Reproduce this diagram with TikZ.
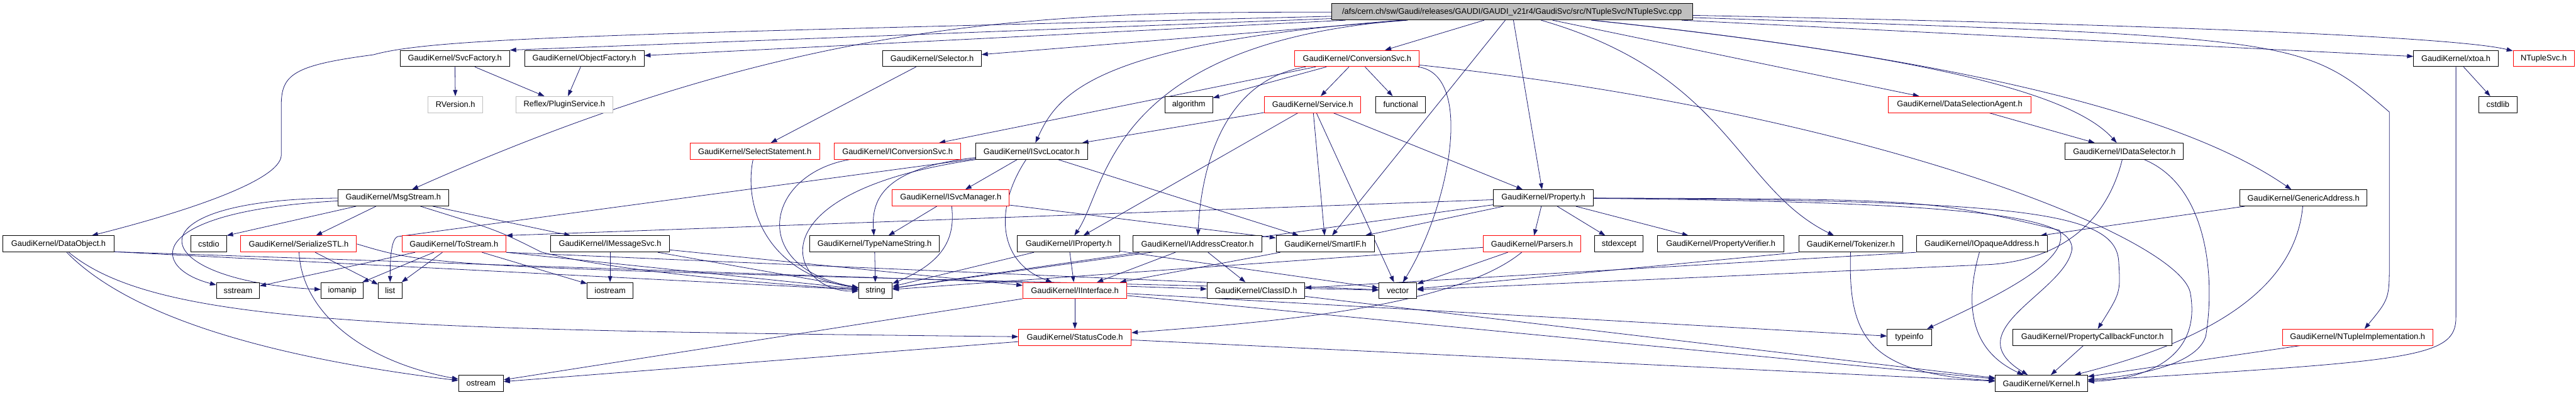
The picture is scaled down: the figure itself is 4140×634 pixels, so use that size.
\documentclass[tikz,border=0pt]{standalone}
\usepackage{fontspec}
\setmainfont{Liberation Sans}
\usetikzlibrary{arrows.meta}
\definecolor{edgeblue}{RGB}{25,25,112}
\definecolor{boxgray}{RGB}{191,191,191}
\pgfdeclarelayer{bg}
\pgfsetlayers{bg,main}

\begin{document}
\begin{tikzpicture}[x=1pt,y=-1pt,>={Triangle[length=10pt,width=7pt]},
    file/.style={draw=black,fill=white,line width=1pt,minimum height=26pt,
      inner sep=0pt,font=\fontsize{13}{15}\selectfont},
    cut/.style={file,draw=red},
    ext/.style={file,draw=boxgray},
    dep/.style={->,draw=edgeblue,line width=0.8pt}]
  \useasboundingbox (0,0) rectangle (4140,634);
  \node[file,fill=boxgray,minimum width=580pt] (root) at (2430,19)
    {/afs/cern.ch/sw/Gaudi/releases/GAUDI/GAUDI\_v21r4/GaudiSvc/src/NTupleSvc/NTupleSvc.cpp};
  % row 1
  \node[file,minimum width=176pt] (svcfac) at (731,94) {GaudiKernel/SvcFactory.h};
  \node[file,minimum width=192pt] (objfac) at (939,94) {GaudiKernel/ObjectFactory.h};
  \node[file,minimum width=158pt] (selector) at (1498,94) {GaudiKernel/Selector.h};
  \node[cut,minimum width=200pt] (convsvc) at (2181,94) {GaudiKernel/ConversionSvc.h};
  \node[file,minimum width=136pt] (xtoa) at (3947,94) {GaudiKernel/xtoa.h};
  \node[cut,minimum width=98pt] (ntsvch) at (4088,94) {NTupleSvc.h};
  % row 2
  \node[ext,minimum width=88pt] (rversion) at (732,168) {RVersion.h};
  \node[ext,minimum width=156pt] (plugin) at (907,168) {Reflex/PluginService.h};
  \node[file,minimum width=77pt] (algorithm) at (1910.5,168) {algorithm};
  \node[cut,minimum width=155pt] (service) at (2109.5,168) {GaudiKernel/Service.h};
  \node[file,minimum width=80pt] (functional) at (2251,168) {functional};
  \node[cut,minimum width=229pt] (dsagent) at (3149.5,168) {GaudiKernel/DataSelectionAgent.h};
  \node[file,minimum width=61pt] (cstdlib) at (4014.5,168) {cstdlib};
  % row 3
  \node[cut,minimum width=208pt] (selstmt) at (1213,243) {GaudiKernel/SelectStatement.h};
  \node[cut,minimum width=203pt] (iconvsvc) at (1442.5,243) {GaudiKernel/IConversionSvc.h};
  \node[file,minimum width=180pt] (isvcloc) at (1658,243) {GaudiKernel/ISvcLocator.h};
  \node[file,minimum width=190pt] (idatasel) at (3414,243) {GaudiKernel/IDataSelector.h};
  % row 4
  \node[file,minimum width=178pt] (msgstream) at (632,318) {GaudiKernel/MsgStream.h};
  \node[cut,minimum width=188pt] (isvcmgr) at (1528,318) {GaudiKernel/ISvcManager.h};
  \node[file,minimum width=161pt] (property) at (2480.5,318) {GaudiKernel/Property.h};
  \node[file,minimum width=204pt] (genaddr) at (3702,318) {GaudiKernel/GenericAddress.h};
  % row 5
  \node[file,minimum width=178pt] (dataobj) at (94,392) {GaudiKernel/DataObject.h};
  \node[file,minimum width=57pt] (cstdio) at (335.5,392) {cstdio};
  \node[cut,minimum width=186pt] (serstl) at (480,392) {GaudiKernel/SerializeSTL.h};
  \node[cut,minimum width=167pt] (tostream) at (729.5,392) {GaudiKernel/ToStream.h};
  \node[file,minimum width=191pt] (imsgsvc) at (980.5,392) {GaudiKernel/IMessageSvc.h};
  \node[file,minimum width=209pt] (typename) at (1405.5,392) {GaudiKernel/TypeNameString.h};
  \node[file,minimum width=165pt] (iproperty) at (1717.5,392) {GaudiKernel/IProperty.h};
  \node[file,minimum width=207pt] (iaddrcr) at (1924.5,392) {GaudiKernel/IAddressCreator.h};
  \node[file,minimum width=158pt] (smartif) at (2130,392) {GaudiKernel/SmartIF.h};
  \node[cut,minimum width=156pt] (parsers) at (2462,392) {GaudiKernel/Parsers.h};
  \node[file,minimum width=78pt] (stdexcept) at (2602,392) {stdexcept};
  \node[file,minimum width=203pt] (propverif) at (2765.5,392) {GaudiKernel/PropertyVerifier.h};
  \node[file,minimum width=167pt] (tokenizer) at (2974.5,392) {GaudiKernel/Tokenizer.h};
  \node[file,minimum width=210pt] (iopaque) at (3185,392) {GaudiKernel/IOpaqueAddress.h};
  % row 6
  \node[file,minimum width=69pt] (sstream) at (382.5,467) {sstream};
  \node[file,minimum width=68pt] (iomanip) at (550,467) {iomanip};
  \node[file,minimum width=38pt] (list) at (627,467) {list};
  \node[file,minimum width=73pt] (iostream) at (980.5,467) {iostream};
  \node[file,minimum width=54pt] (string) at (1407,467) {string};
  \node[cut,minimum width=167pt] (iinterface) at (1727.5,467) {GaudiKernel/IInterface.h};
  \node[file,minimum width=157pt] (classid) at (2018.5,467) {GaudiKernel/ClassID.h};
  \node[file,minimum width=61pt] (vector) at (2246.5,467) {vector};
  % row 7
  \node[cut,minimum width=181pt] (statuscode) at (1727.5,542) {GaudiKernel/StatusCode.h};
  \node[file,minimum width=71pt] (typeinfo) at (3068.5,542) {typeinfo};
  \node[file,minimum width=256pt] (propcb) at (3363,542) {GaudiKernel/PropertyCallbackFunctor.h};
  \node[cut,minimum width=242pt] (ntimpl) at (3789,542) {GaudiKernel/NTupleImplementation.h};
  % row 8
  \node[file,minimum width=72pt] (ostream) at (773,616) {ostream};
  \node[file,minimum width=148pt] (kernel) at (3281,616) {GaudiKernel/Kernel.h};

  \begin{pgfonlayer}{bg}
  \fill[white] (0,0) rectangle (4140,634);
  % includes of the source file
  \draw[dep] (root) -- (svcfac.north east);
  \draw[dep] (root) -- (objfac);
  \draw[dep] (root) -- (selector);
  \draw[dep] (root) .. controls (1000,55) and (700,60) .. (600,88)
    .. controls (470,105) and (452,120) .. (452,170) -- (452,250)
    .. controls (450,290) and (300,340) .. (dataobj);
  \draw[dep] (root) .. controls (1700,20) and (1300,20) .. (msgstream);
  \draw[dep] (root) .. controls (1760,70) and (1700,150) .. (isvcloc);
  \draw[dep] (root) .. controls (1780,70) and (1780,300) .. (iproperty);
  \draw[dep] (root) -- (convsvc);
  \draw[dep] (root) -- (smartif);
  \draw[dep] (root) -- (property);
  \draw[dep] (root) .. controls (2780,120) and (2790,300) .. (tokenizer);
  \draw[dep] (root) -- (dsagent);
  \draw[dep] (root) .. controls (3100,90) and (3330,150) .. (idatasel);
  \draw[dep] (root) .. controls (3300,110) and (3560,220) .. (genaddr);
  \draw[dep] (root) .. controls (3700,60) .. (3840,180) -- (3840,420)
    .. controls (3840,480) .. (ntimpl);
  \draw[dep] (root) -- (xtoa);
  \draw[dep] (root) .. controls (3500,40) and (3950,60) .. (ntsvch);
  % second level
  \draw[dep] (svcfac) -- (rversion);
  \draw[dep] (svcfac) -- (plugin);
  \draw[dep] (objfac) -- (plugin);
  \draw[dep] (selector) -- (selstmt);
  \draw[dep] (convsvc) -- (service);
  \draw[dep] (convsvc) -- (functional);
  \draw[dep] (convsvc) -- (algorithm);
  \draw[dep] (convsvc) -- (iconvsvc);
  \draw[dep] (convsvc) .. controls (1960,130) and (1930,280) .. (iaddrcr);
  \draw[dep] (convsvc) .. controls (2370,120) and (2330,330) .. (vector);
  \draw[dep] (convsvc) .. controls (3000,180) and (3500,380) .. (3520,470)
    .. controls (3540,580) and (3440,610) .. (kernel);
  \draw[dep] (service) -- (isvcloc);
  \draw[dep] (service) -- (iproperty);
  \draw[dep] (service) -- (smartif);
  \draw[dep] (service) -- (vector);
  \draw[dep] (service) -- (property);
  \draw[dep] (xtoa) -- (cstdlib);
  \draw[dep] (xtoa) -- (3947,510) .. controls (3947,575) and (3880,580) .. (kernel);
  \draw[dep] (dsagent) -- (idatasel);
  % services and selectors
  \draw[dep] (isvcloc) -- (isvcmgr);
  \draw[dep] (isvcloc) .. controls (1420,270) and (1400,320) .. (typename);
  \draw[dep] (isvcloc.south west) .. controls (1200,310) and (1270,470) .. (string);
  \draw[dep] (isvcloc) .. controls (1600,330) and (1600,420) .. (iinterface);
  \draw[dep] (isvcloc) -- (smartif);
  \draw[dep] (isvcloc) -- (640,380) .. controls (628,382) and (627,420) .. (list);
  \draw[dep] (isvcmgr) -- (typename);
  \draw[dep] (isvcmgr) .. controls (1535,380) and (1520,420) .. (string);
  \draw[dep] (isvcmgr) -- (smartif);
  \draw[dep] (typename) -- (string);
  \draw[dep] (selstmt) .. controls (1195,330) and (1230,440) .. (string);
  \draw[dep] (iconvsvc) .. controls (1230,280) and (1200,430) .. (string);
  \draw[dep] (idatasel) .. controls (3390,340) and (3330,415) .. (3200,425) -- (vector);
  \draw[dep] (idatasel) .. controls (3550,300) and (3560,450) .. (3545,540)
    .. controls (3530,590) and (3420,605) .. (kernel);
  \draw[dep] (genaddr) -- (iopaque);
  \draw[dep] (genaddr) .. controls (3690,450) and (3580,540) .. (kernel);
  % messages and streams
  \draw[dep] (msgstream) -- (cstdio.north east);
  \draw[dep] (msgstream) -- (serstl);
  \draw[dep] (msgstream) .. controls (230,340) and (240,430) .. (sstream);
  \draw[dep] (msgstream) .. controls (200,320) and (230,450) .. (iomanip);
  \draw[dep] (msgstream) -- (imsgsvc);
  \draw[dep] (msgstream) .. controls (800,370) .. (870,405)
    .. controls (1000,440) and (1300,460) .. (string);
  \draw[dep] (serstl) -- (list);
  \draw[dep] (serstl) .. controls (485,500) and (580,580) .. (ostream);
  \draw[dep] (serstl.east) .. controls (700,430) .. (vector);
  \draw[dep] (tostream) -- (sstream);
  \draw[dep] (tostream) -- (iomanip);
  \draw[dep] (tostream) -- (list);
  \draw[dep] (tostream) -- (iostream);
  \draw[dep] (tostream.south east) -- (string);
  \draw[dep] (tostream.south east) -- (vector);
  \draw[dep] (imsgsvc) -- (iostream);
  \draw[dep] (imsgsvc) -- (string);
  \draw[dep] (imsgsvc) -- (iinterface);
  \draw[dep] (dataobj.352) -- (classid);
  \draw[dep] (dataobj.352) -- (string);
  \draw[dep] (dataobj) .. controls (250,520) and (600,530) .. (statuscode);
  \draw[dep] (dataobj) .. controls (200,500) and (400,570) .. (ostream);
  % interfaces
  \draw[dep] (iproperty) -- (iinterface);
  \draw[dep] (iproperty) -- (string);
  \draw[dep] (iproperty) -- (vector);
  \draw[dep] (iaddrcr) -- (iinterface);
  \draw[dep] (iaddrcr) -- (classid);
  \draw[dep] (iaddrcr) -- (string);
  \draw[dep] (smartif) -- (iinterface);
  \draw[dep] (iinterface) -- (statuscode);
  \draw[dep] (iinterface) -- (ostream);
  \draw[dep] (iinterface) -- (typeinfo);
  \draw[dep] (iinterface) -- (kernel);
  \draw[dep] (statuscode) -- (ostream);
  \draw[dep] (statuscode) -- (kernel);
  \draw[dep] (classid) -- (kernel);
  % properties
  \draw[dep] (property) -- (tostream.north east);
  \draw[dep] (property) -- (smartif);
  \draw[dep] (property) -- (string);
  \draw[dep] (property) -- (parsers);
  \draw[dep] (property) -- (stdexcept);
  \draw[dep] (property) -- (propverif);
  \draw[dep] (property) .. controls (3100,320) .. (3310,370)
    .. controls (3330,420) and (3200,480) .. (typeinfo);
  \draw[dep] (property) .. controls (3250,322) and (3400,340) .. (3405,420)
    .. controls (3408,470) .. (propcb);
  \draw[dep] (property) .. controls (3200,325) and (3330,350) .. (3330,400)
    .. controls (3320,470) and (3140,530) .. (kernel);
  \draw[dep] (parsers) -- (vector);
  \draw[dep] (parsers) .. controls (2330,500) and (2000,520) .. (statuscode);
  \draw[dep] (parsers) -- (string);
  \draw[dep] (tokenizer) .. controls (2970,540) and (3000,600) .. (kernel);
  \draw[dep] (tokenizer.south west) -- (vector);
  \draw[dep] (iopaque) .. controls (3160,480) and (3160,560) .. (kernel);
  \draw[dep] (iopaque.south west) -- (classid);
  \draw[dep] (propcb) -- (kernel);
  \draw[dep] (ntimpl) -- (kernel);
  \end{pgfonlayer}
\end{tikzpicture}
\end{document}
